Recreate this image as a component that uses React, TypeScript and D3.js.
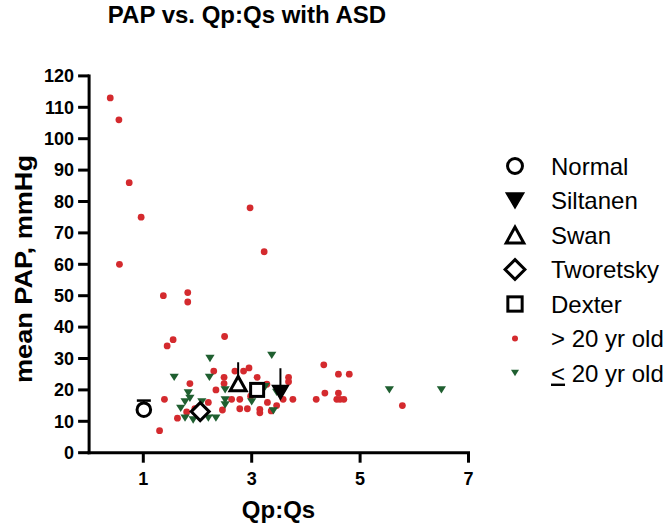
import React from "react";
import * as d3 from "d3";

const W = 670;
const H = 527;

const adultX = [0.39, 0.55, 0.74, 0.96, 2.97, 3.23, 0.56, 1.37, 1.82, 1.82, 1.55, 1.44, 2.5, 1.39, 1.3, 1.86, 1.63, 1.8, 1.95, 2.3, 2.34, 2.2, 2.49, 2.49, 2.46, 2.63, 2.69, 2.85, 2.95, 2.78, 2.78, 2.92, 2.98, 3.1, 3.15, 3.15, 3.29, 3.46, 3.36, 3.58, 3.68, 3.68, 3.76, 3.28, 4.33, 4.6, 4.8, 4.35, 4.6, 4.19, 4.57, 4.7, 4.63, 5.78];
const adultY = [113, 106, 86, 75, 78, 64, 60, 50, 51, 48, 36, 34, 37, 17, 7, 22, 11, 13, 14, 26, 20, 16, 24, 22, 13.6, 17, 26, 26, 27, 17, 14, 14, 18, 24, 13.8, 12.7, 16, 15, 13.3, 17, 24, 22.6, 17, 21.8, 28, 25, 25, 19, 19, 17, 17, 17, 17, 15];

const youngX = [2.23, 3.37, 1.57, 2.22, 1.83, 1.86, 1.77, 1.69, 2.08, 2.51, 2.51, 2.51, 1.77, 1.92, 1.99, 2.2, 2.34, 3.0, 3.25, 3.46, 3.4, 5.54, 6.5];
const youngY = [30, 31, 24, 24, 19, 17.3, 16.2, 14.1, 16.2, 20, 16.8, 15.2, 11, 10.4, 12, 11, 11, 16.2, 21, 19.2, 13.3, 20, 20];

// reference studies: name, x, y, error bar top (or null)
const refNames = ["Normal", "Siltanen", "Swan", "Tworetsky", "Dexter"];
const refX = [1.01, 3.53, 2.75, 2.05, 3.1];
const refY = [13.7, 19.2, 22, 13.1, 20];
const refErrTop = [16.6, 26.9, 28.8, null, null];

const yTicks = d3.range(0, 121, 10);
const xTicks = [1, 3, 5, 7];

const RED = "#d42a2e";
const GREEN = "#1f5f30";

const x = d3.scaleLinear().domain([0, 7]).range([89.1, 468.5]);
const y = d3.scaleLinear().domain([0, 120]).range([452.7, 75.9]);

function Marker({ name, cx, cy, s = 1 }: { name: string; cx: number; cy: number; s?: number }) {
  const sw = 3;
  if (name === "Normal") return <circle cx={cx} cy={cy} r={6.8 * s} fill="white" stroke="black" strokeWidth={sw} />;
  if (name === "Siltanen") {
    const h = 8 * s;
    return <path d={`M${cx - h},${cy - h * 0.85}L${cx + h},${cy - h * 0.85}L${cx},${cy + h * 0.85}Z`} fill="black" stroke="black" strokeWidth={1.5} strokeLinejoin="miter" />;
  }
  if (name === "Swan") {
    const h = 8 * s;
    return <path d={`M${cx - h},${cy + h * 0.9}L${cx + h},${cy + h * 0.9}L${cx},${cy - h * 0.9}Z`} fill="white" stroke="black" strokeWidth={sw} strokeLinejoin="miter" />;
  }
  if (name === "Tworetsky") {
    const h = 9 * s;
    return <path d={`M${cx},${cy - h}L${cx + h},${cy}L${cx},${cy + h}L${cx - h},${cy}Z`} fill="white" stroke="black" strokeWidth={sw} />;
  }
  const h = 6.5 * s;
  return <rect x={cx - h} y={cy - h} width={2 * h} height={2 * h} fill="white" stroke="black" strokeWidth={sw} />;
}

function tri(cx: number, cy: number, h: number) {
  return `M${cx - h},${cy - h * 0.8}L${cx + h},${cy - h * 0.8}L${cx},${cy + h * 0.8}Z`;
}

export default function App() {
  const legendRows = [...refNames, "adult", "young"];
  const ly = (i: number) => 166 + i * 34.5;
  return (
    <svg width={W} height={H} style={{ position: "absolute", left: 0, top: 0 }} fontFamily="'Liberation Sans', Arial, sans-serif">
      <rect width={W} height={H} fill="white" />
      <text x={247} y={23} textAnchor="middle" fontSize={24} fontWeight="bold">PAP vs. Qp:Qs with ASD</text>
      {/* y axis */}
      <line x1={x(0)} x2={x(0)} y1={y(120) - 1.5} y2={y(0) + 1.5} stroke="black" strokeWidth={3} />
      {yTicks.map((t) => (
        <g key={t}>
          <line x1={x(0) - 11} x2={x(0)} y1={y(t)} y2={y(t)} stroke="black" strokeWidth={3} />
          <text x={74} y={y(t) + 6.3} textAnchor="end" fontSize={18} fontWeight="bold">{t}</text>
        </g>
      ))}
      {/* x axis */}
      <line x1={x(0) - 1.5} x2={x(7) + 1.5} y1={y(0)} y2={y(0)} stroke="black" strokeWidth={3} />
      {xTicks.map((t) => (
        <g key={t}>
          <line x1={x(t)} x2={x(t)} y1={y(0)} y2={y(0) + 10} stroke="black" strokeWidth={3} />
          <text x={x(t)} y={485} textAnchor="middle" fontSize={18} fontWeight="bold">{t}</text>
        </g>
      ))}
      <text x={278.5} y={518} textAnchor="middle" fontSize={24} fontWeight="bold">Qp:Qs</text>
      <text transform={`translate(32,269) rotate(-90)`} textAnchor="middle" fontSize={23} fontWeight="bold" textLength={228} lengthAdjust="spacingAndGlyphs">mean PAP, mmHg</text>

      {/* data */}
      {adultX.map((v, i) => (
        <circle key={"a" + i} cx={x(v)} cy={y(adultY[i])} r={3.4} fill={RED} />
      ))}
      {youngX.map((v, i) => (
        <path key={"g" + i} d={tri(x(v), y(youngY[i]), 4.6)} fill={GREEN} />
      ))}
      {refNames.map((n, i) => (
        <g key={n}>
          {refErrTop[i] !== null && (
            <>
              <line x1={x(refX[i])} x2={x(refX[i])} y1={y(refY[i])} y2={y(refErrTop[i] as number)} stroke="black" strokeWidth={2} />
              {n === "Normal" && (
                <line x1={x(refX[i]) - 7} x2={x(refX[i]) + 7} y1={y(refErrTop[i] as number)} y2={y(refErrTop[i] as number)} stroke="black" strokeWidth={2.5} />
              )}
            </>
          )}
          <Marker name={n} cx={x(refX[i])} cy={y(refY[i])} />
        </g>
      ))}

      {/* legend */}
      {legendRows.map((n, i) => {
        const cy = ly(i);
        let mark;
        let label: React.ReactNode = n;
        if (n === "adult") {
          mark = <circle cx={515} cy={cy} r={3} fill={RED} />;
          label = "> 20 yr old";
        } else if (n === "young") {
          mark = <path d={tri(515, cy, 4)} fill={GREEN} />;
          label = (
            <>
              <tspan textDecoration="underline">&lt;</tspan>
              <tspan> 20 yr old</tspan>
            </>
          );
        } else {
          mark = <Marker name={n} cx={515} cy={cy} s={1.1} />;
        }
        return (
          <g key={n}>
            {mark}
            <text x={551} y={cy + 8.6} fontSize={24}>{label}</text>
          </g>
        );
      })}
    </svg>
  );
}
